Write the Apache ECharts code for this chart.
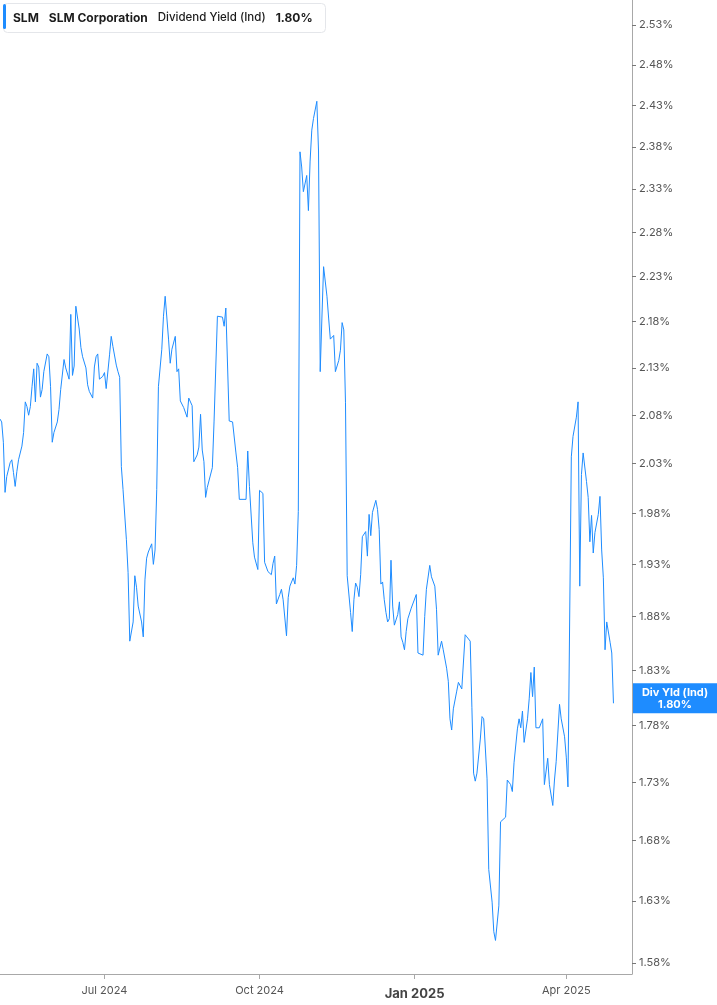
<!DOCTYPE html>
<html>
<head>
<meta charset="utf-8">
<script src="https://cdn.jsdelivr.net/npm/echarts@6/dist/echarts.min.js"></script>
<style>
  html, body { margin: 0; padding: 0; background: #fff; }
  #chart { width: 717px; height: 1005px; }
</style>
</head>
<body>
<div id="chart"></div>
<script>
// SLM dividend yield
const dates = [
  '2024-04-30','2024-05-01','2024-05-02','2024-05-03','2024-05-04','2024-05-06','2024-05-07','2024-05-08','2024-05-09','2024-05-10',
  '2024-05-11','2024-05-13','2024-05-14','2024-05-15','2024-05-16','2024-05-17','2024-05-18','2024-05-19','2024-05-20','2024-05-21',
  '2024-05-22','2024-05-23','2024-05-24','2024-05-25','2024-05-26','2024-05-28','2024-05-29','2024-05-30','2024-05-31','2024-06-01',
  '2024-06-03','2024-06-04','2024-06-05','2024-06-07','2024-06-08','2024-06-10','2024-06-11','2024-06-12','2024-06-13','2024-06-14',
  '2024-06-16','2024-06-17','2024-06-18','2024-06-20','2024-06-21','2024-06-22','2024-06-24','2024-06-25','2024-06-26','2024-06-27',
  '2024-06-28','2024-06-30','2024-07-01','2024-07-02','2024-07-03','2024-07-04','2024-07-05','2024-07-06','2024-07-08','2024-07-09',
  '2024-07-10','2024-07-11','2024-07-12','2024-07-14','2024-07-15','2024-07-16','2024-07-18','2024-07-19','2024-07-20','2024-07-21',
  '2024-07-23','2024-07-24','2024-07-25','2024-07-26','2024-07-27','2024-07-29','2024-07-30','2024-07-31','2024-08-01','2024-08-02',
  '2024-08-04','2024-08-05','2024-08-06','2024-08-07','2024-08-08','2024-08-09','2024-08-10','2024-08-12','2024-08-13','2024-08-14',
  '2024-08-15','2024-08-17','2024-08-19','2024-08-20','2024-08-22','2024-08-23','2024-08-25','2024-08-26','2024-08-27','2024-08-28',
  '2024-08-29','2024-08-30','2024-08-31','2024-09-03','2024-09-04','2024-09-06','2024-09-09','2024-09-10','2024-09-11','2024-09-13',
  '2024-09-15','2024-09-17','2024-09-18','2024-09-19','2024-09-23','2024-09-24','2024-09-25','2024-09-27','2024-09-28','2024-09-30',
  '2024-10-01','2024-10-03','2024-10-04','2024-10-06','2024-10-08','2024-10-09','2024-10-10','2024-10-11','2024-10-13','2024-10-14',
  '2024-10-15','2024-10-17','2024-10-18','2024-10-19','2024-10-21','2024-10-22','2024-10-23','2024-10-24','2024-10-25','2024-10-26',
  '2024-10-27','2024-10-29','2024-10-30','2024-10-31','2024-11-01','2024-11-02','2024-11-04','2024-11-05','2024-11-06','2024-11-07',
  '2024-11-08','2024-11-10','2024-11-11','2024-11-12','2024-11-14','2024-11-15','2024-11-17','2024-11-18','2024-11-19','2024-11-20',
  '2024-11-21','2024-11-22','2024-11-24','2024-11-25','2024-11-26','2024-11-27','2024-11-28','2024-11-29','2024-11-30','2024-12-01',
  '2024-12-03','2024-12-04','2024-12-05','2024-12-06','2024-12-07','2024-12-09','2024-12-10','2024-12-11','2024-12-12','2024-12-13',
  '2024-12-14','2024-12-15','2024-12-16','2024-12-17','2024-12-18','2024-12-19','2024-12-20','2024-12-22','2024-12-23','2024-12-24',
  '2024-12-25','2024-12-26','2024-12-27','2024-12-28','2024-12-30','2024-12-31','2025-01-02','2025-01-03','2025-01-04','2025-01-06',
  '2025-01-07','2025-01-08','2025-01-10','2025-01-11','2025-01-13','2025-01-14','2025-01-15','2025-01-17','2025-01-18','2025-01-20',
  '2025-01-21','2025-01-22','2025-01-23','2025-01-24','2025-01-26','2025-01-27','2025-01-29','2025-01-30','2025-01-31','2025-02-01',
  '2025-02-03','2025-02-04','2025-02-05','2025-02-06','2025-02-07','2025-02-09','2025-02-10','2025-02-11','2025-02-13','2025-02-14',
  '2025-02-16','2025-02-17','2025-02-18','2025-02-19','2025-02-20','2025-02-21','2025-02-24','2025-02-25','2025-02-27','2025-02-28',
  '2025-03-01','2025-03-03','2025-03-04','2025-03-05','2025-03-06','2025-03-07','2025-03-09','2025-03-10','2025-03-11','2025-03-12',
  '2025-03-13','2025-03-14','2025-03-16','2025-03-17','2025-03-18','2025-03-19','2025-03-21','2025-03-22','2025-03-24','2025-03-25',
  '2025-03-26','2025-03-28','2025-03-29','2025-03-31','2025-04-01','2025-04-02','2025-04-04','2025-04-05','2025-04-07','2025-04-08',
  '2025-04-09','2025-04-10','2025-04-11','2025-04-13','2025-04-14','2025-04-15','2025-04-16','2025-04-17','2025-04-18','2025-04-20',
  '2025-04-21','2025-04-22','2025-04-23','2025-04-24','2025-04-25','2025-04-27','2025-04-28','2025-04-29'
];

const yields = [
  2.076,2.073,2.052,2.001,2.017,2.031,2.034,2.021,2.007,2.022,
  2.034,2.048,2.062,2.094,2.089,2.080,2.089,2.110,2.129,2.094,
  2.135,2.131,2.099,2.107,2.126,2.145,2.142,2.110,2.052,2.062,
  2.073,2.086,2.107,2.139,2.130,2.118,2.188,2.122,2.132,2.197,
  2.172,2.152,2.142,2.130,2.112,2.105,2.098,2.131,2.142,2.145,
  2.118,2.121,2.125,2.108,2.109,2.144,2.164,2.153,2.133,2.126,
  2.120,2.027,2.004,1.954,1.922,1.857,1.875,1.919,1.908,1.890,
  1.875,1.861,1.915,1.936,1.942,1.950,1.930,1.944,2.004,2.110,
  2.150,2.186,2.208,2.207,2.161,2.135,2.150,2.164,2.126,2.129,
  2.095,2.088,2.078,2.098,2.090,2.032,2.039,2.047,2.081,2.044,
  2.032,1.996,2.006,2.026,2.073,2.186,2.185,2.175,2.195,2.074,
  2.073,2.041,2.026,1.994,1.994,2.043,2.007,1.951,1.937,1.925,
  2.003,2.000,1.932,1.923,1.920,1.931,1.938,1.892,1.901,1.906,
  1.896,1.862,1.898,1.909,1.917,1.911,1.929,1.982,2.374,2.356,
  2.327,2.346,2.305,2.363,2.400,2.414,2.435,2.375,2.126,2.184,
  2.241,2.208,2.184,2.161,2.165,2.126,2.138,2.149,2.179,2.171,
  2.093,1.919,1.884,1.866,1.896,1.912,1.908,1.899,1.920,1.957,
  1.962,1.938,1.979,1.958,1.981,1.993,1.984,1.964,1.911,1.913,
  1.896,1.884,1.875,1.878,1.934,1.890,1.872,1.882,1.894,1.861,
  1.856,1.849,1.866,1.878,1.888,1.887,1.901,1.846,1.846,1.844,
  1.880,1.906,1.929,1.918,1.909,1.887,1.844,1.857,1.849,1.832,
  1.820,1.786,1.776,1.795,1.811,1.819,1.813,1.812,1.863,1.861,
  1.857,1.796,1.738,1.731,1.738,1.768,1.788,1.786,1.733,1.656,
  1.629,1.605,1.598,1.599,1.626,1.696,1.700,1.732,1.728,1.722,
  1.747,1.777,1.786,1.778,1.793,1.765,1.786,1.804,1.828,1.806,
  1.833,1.778,1.778,1.778,1.786,1.728,1.751,1.728,1.710,1.732,
  1.748,1.799,1.786,1.770,1.752,1.726,2.037,2.058,2.078,2.094,
  1.909,2.019,2.041,2.012,1.996,1.952,1.978,1.941,1.961,1.979,
  1.997,1.944,1.917,1.849,1.875,1.856,1.846,1.800
];

// log-scaled axis: ticks every 0.05 percentage points
const yTicks = [1.58,1.63,1.68,1.73,1.78,1.83,1.88,1.93,1.98,2.03,2.08,2.13,2.18,2.23,2.28,2.33,2.38,2.43,2.48,2.53];
const yMin = 1.5713;
const yMax = 2.562;
const xTicks = ['2024-07-01','2024-10-01','2025-01-01','2025-04-01'];
const xMin = '2024-04-30';
const xMax = '2025-05-10';
const lastYield = 1.80;

const BLUE = '#1E8CFF';
const FONT = 'Inter, "Noto Sans", sans-serif';
const MONTHS = ['Jan','Feb','Mar','Apr','May','Jun','Jul','Aug','Sep','Oct','Nov','Dec'];

const toTime = d => +new Date(d + 'T00:00:00');
const tickTimes = xTicks.map(toTime);

const chart = echarts.init(document.getElementById('chart'));

const option = {
  animation: false,
  backgroundColor: '#fff',
  title: {
    left: 3,
    top: 3,
    padding: [6, 13, 6, 10],
    backgroundColor: '#fff',
    borderColor: '#e4e6ea',
    borderWidth: 1,
    borderRadius: 4,
    text: '{b|SLM}{g|}{b|SLM Corporation}{g|}{m|Dividend Yield (Ind)}{g|}{b|1.80%}',
    textStyle: {
      rich: {
        b: { fontFamily: FONT, fontSize: 12, fontWeight: 'bold', color: '#1c1c1c' },
        m: { fontFamily: FONT, fontSize: 11.5, fontWeight: 500, color: '#1c1c1c' },
        g: { width: 10 }
      }
    }
  },
  grid: { left: 0, right: 85, top: 0, bottom: 31 },
  xAxis: {
    type: 'value',
    min: toTime(xMin),
    max: toTime(xMax),
    splitLine: { show: false },
    axisLine: { show: true, lineStyle: { color: '#a8a8a8', width: 1 } },
    axisTick: { show: true, customValues: tickTimes, length: 5, lineStyle: { color: '#a8a8a8' } },
    axisLabel: {
      customValues: tickTimes,
      margin: 11,
      fontFamily: FONT,
      fontSize: 11,
      color: '#555',
      formatter: function (val) {
        const d = new Date(val);
        const txt = MONTHS[d.getMonth()] + ' ' + d.getFullYear();
        return d.getMonth() === 0 ? '{y|' + txt + '}' : txt;
      },
      rich: {
        y: { fontFamily: FONT, fontSize: 13, fontWeight: 'bold', color: '#444', padding: [3, 0, 0, 0] }
      }
    }
  },
  yAxis: {
    type: 'value',
    position: 'right',
    min: Math.log(yMin),
    max: Math.log(yMax),
    splitLine: { show: false },
    axisLine: { show: true, lineStyle: { color: '#a8a8a8', width: 1 } },
    axisTick: { show: true, customValues: yTicks.map(Math.log), length: 4, lineStyle: { color: '#777' } },
    axisLabel: {
      customValues: yTicks.map(Math.log),
      margin: 7,
      fontFamily: FONT,
      fontSize: 11,
      color: '#555',
      formatter: v => Math.exp(v).toFixed(2) + '%'
    }
  },
  series: [{
    name: 'Dividend Yield (Ind)',
    type: 'line',
    showSymbol: false,
    symbol: 'none',
    lineStyle: { color: BLUE, width: 1 },
    data: dates.map((d, i) => [toTime(d), Math.log(yields[i])])
  }]
};

chart.setOption(option);

// end-of-series box on the value axis
const py = chart.convertToPixel({ yAxisIndex: 0 }, Math.log(lastYield));
const axisX = chart.convertToPixel({ xAxisIndex: 0 }, toTime(xMax));
const boxW = 717 - axisX - 1;
chart.setOption({
  graphic: [
    {
      type: 'rect',
      left: 3, top: 4,
      shape: { width: 3, height: 25, r: 1.5 },
      style: { fill: BLUE },
      z: 100
    },
    {
      type: 'group',
      x: axisX + 1,
      y: py - 20,
      children: [
        { type: 'rect', shape: { x: 0, y: 0, width: boxW, height: 30 }, style: { fill: BLUE } },
        {
          type: 'text',
          x: boxW / 2,
          y: 15,
          style: {
            text: 'Div Yld (Ind)\n' + lastYield.toFixed(2) + '%',
            fill: '#fff',
            font: 'bold 11px ' + FONT,
            align: 'center',
            verticalAlign: 'middle',
            lineHeight: 12
          }
        }
      ]
    }
  ]
});

window.addEventListener('resize', () => chart.resize());
</script>
</body>
</html>
